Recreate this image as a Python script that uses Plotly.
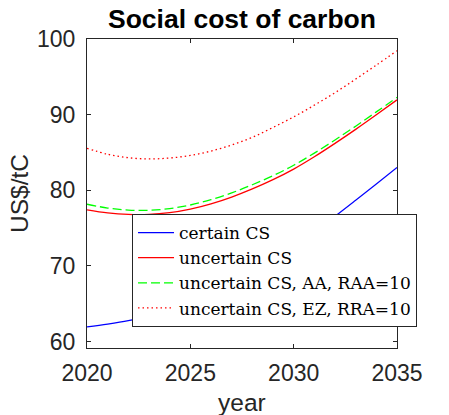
import plotly.graph_objects as go

# Social cost of carbon (US$/tC) by year for four model variants
years = list(range(2020, 2036))
certain_cs = [61.92, 62.30, 62.75, 63.33, 64.08, 65.03, 66.18, 67.53,
              69.05, 70.73, 72.55, 74.50, 76.55, 78.67, 80.82, 83.00]
uncertain_cs = [77.40, 77.00, 76.80, 76.80, 77.03, 77.50, 78.20, 79.10,
                80.18, 81.40, 82.80, 84.43, 86.20, 88.05, 89.98, 91.95]
uncertain_aa = [78.15, 77.65, 77.38, 77.35, 77.58, 78.05, 78.75, 79.65,
                80.73, 81.92, 83.30, 84.91, 86.65, 88.47, 90.36, 92.28]
uncertain_ez = [85.55, 84.76, 84.30, 84.14, 84.26, 84.60, 85.18, 85.98,
                87.00, 88.30, 89.70, 91.25, 92.90, 94.70, 96.55, 98.45]

series_names = ["certain CS", "uncertain CS",
                "uncertain CS, AA, RAA=10", "uncertain CS, EZ, RRA=10"]
x_ticks = [2020, 2025, 2030, 2035]
y_ticks = [60, 70, 80, 90, 100]

styles = [
    dict(color="#0000FF", width=1.2, dash="solid"),
    dict(color="#FF0000", width=1.3, dash="solid"),
    dict(color="#00FF00", width=1.3, dash="9px,4px"),
    dict(color="#FF0000", width=1.3, dash="1.5px,3px"),
]

fig = go.Figure()
for name, vals, st in zip(series_names,
                          [certain_cs, uncertain_cs, uncertain_aa, uncertain_ez],
                          styles):
    fig.add_trace(go.Scatter(
        x=years, y=vals, mode="lines", name=name, legendgroup=name,
        line=dict(color=st["color"], width=st["width"], dash=st["dash"],
                  shape="spline", smoothing=1.0),
    ))

sans = "Liberation Sans, Arial, sans-serif"
axis_font = dict(family=sans, size=23, color="#262626")
label_font = dict(family=sans, size=24.5, color="#262626")
axis_common = dict(
    showline=True, linecolor="#262626", linewidth=1, mirror="ticks",
    ticks="inside", ticklen=4, tickwidth=1, tickcolor="#262626",
    showgrid=False, zeroline=False, tickfont=axis_font,
)

fig.update_xaxes(range=[2020, 2035], tickvals=x_ticks, ticklabelstandoff=4,
                 **axis_common)
fig.update_yaxes(range=[59.14, 100], tickvals=y_ticks, ticklabelstandoff=6,
                 title=dict(text="US$/tC", standoff=1, font=label_font),
                 **axis_common)

# x-axis label placed just under the tick labels, near the bottom edge
fig.add_annotation(text="year", xref="paper", yref="paper", x=0.5, y=-0.176,
                   xanchor="center", yanchor="middle", showarrow=False,
                   font=label_font)

fig.update_layout(
    width=449, height=415,
    margin=dict(l=87, r=52, t=39, b=67, autoexpand=False),
    paper_bgcolor="white", plot_bgcolor="white",
    title=dict(text="<b>Social cost of carbon</b>", x=0.5, xref="paper",
               xanchor="center", y=1 - 19 / 415, yref="container",
               yanchor="middle",
               font=dict(family=sans, size=26.5, color="black")),
    legend=dict(x=0.1452, y=0.4335, xanchor="left", yanchor="top",
                bgcolor="white", bordercolor="#262626", borderwidth=1,
                font=dict(family="DejaVu Serif, serif", size=17, color="black"),
                tracegroupgap=0, itemwidth=36),
    showlegend=True,
)

fig.write_html("out.html")
